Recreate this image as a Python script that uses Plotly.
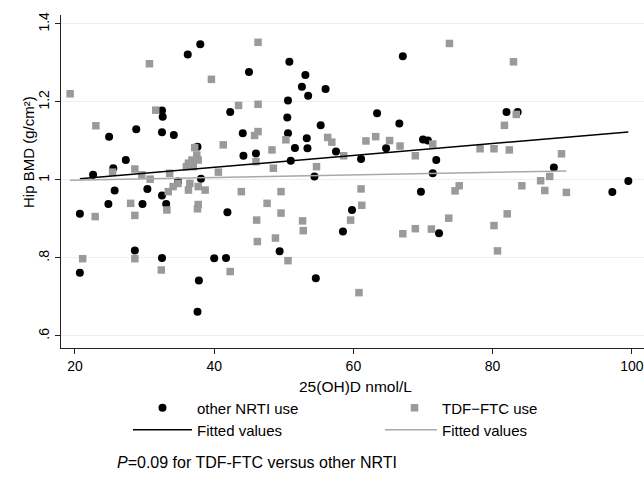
import plotly.graph_objects as go

# ---- data ----
other_x = [36.2, 38.0, 45.0, 32.5, 32.6, 24.9, 28.8, 32.5, 34.2, 42.3, 44.1, 37.6, 44.2, 46.0,
           27.3, 25.5, 22.6, 38.1, 25.7, 30.4, 32.5, 34.8, 33.1, 24.8, 29.7, 20.7, 41.9, 28.6,
           20.7, 32.5, 40.0, 41.7, 37.8, 37.6, 50.8, 53.1, 52.6, 53.5, 56.0, 67.1, 50.6, 50.5,
           50.6, 55.3, 63.4, 66.6, 53.3, 51.6, 53.4, 57.5, 64.7, 70.0, 70.7, 71.9, 51.0, 61.1,
           54.4, 71.4, 69.7, 59.8, 58.5, 49.4, 54.6, 72.3, 82.0, 83.6, 88.8, 97.2, 99.5]
other_y = [1.322, 1.348, 1.277, 1.178, 1.162, 1.111, 1.130, 1.122, 1.115, 1.174, 1.120, 1.085,
           1.062, 1.068, 1.051, 1.030, 1.013, 1.003, 0.973, 0.977, 0.960, 0.996, 0.938, 0.938,
           0.938, 0.913, 0.917, 0.819, 0.762, 0.800, 0.799, 0.800, 0.742, 0.662, 1.303, 1.269,
           1.239, 1.216, 1.233, 1.317, 1.204, 1.160, 1.120, 1.140, 1.171, 1.145, 1.107, 1.082,
           1.081, 1.073, 1.081, 1.104, 1.101, 1.051, 1.049, 1.054, 1.009, 1.017, 0.970, 0.923,
           0.868, 0.817, 0.748, 0.863, 1.174, 1.174, 1.032, 0.969, 0.997]

tdf_x = [19.3, 30.7, 39.6, 46.3, 31.6, 23.0, 43.5, 46.3, 45.8, 46.3, 41.3, 37.2, 37.5, 36.8,
         36.3, 37.7, 36.0, 37.0, 28.6, 25.4, 29.6, 30.8, 33.6, 40.6, 46.0, 34.8, 34.1, 33.4,
         36.5, 36.3, 37.7, 38.7, 37.7, 37.6, 43.9, 28.0, 28.6, 22.9, 33.2, 46.1, 46.2, 28.6,
         21.1, 32.4, 42.3, 73.8, 50.3, 56.3, 56.9, 58.6, 61.8, 63.2, 65.2, 66.7, 71.4, 68.9,
         48.3, 48.5, 54.7, 61.1, 61.2, 59.6, 49.6, 47.6, 49.6, 52.7, 52.8, 48.8, 50.6, 60.8,
         67.1, 68.9, 71.2, 73.7, 83.0, 83.4, 81.7, 78.2, 80.2, 82.4, 89.9, 88.2, 86.9, 87.5,
         90.6, 84.2, 75.2, 74.6, 82.1, 80.2, 80.7]
tdf_y = [1.221, 1.298, 1.258, 1.353, 1.179, 1.139, 1.191, 1.194, 1.114, 1.124, 1.090, 1.083,
         1.064, 1.051, 1.043, 1.051, 1.034, 1.034, 1.028, 1.020, 1.013, 1.002, 1.017, 1.020,
         1.047, 0.991, 0.983, 0.970, 0.991, 0.974, 0.983, 0.974, 0.937, 0.926, 0.970, 0.940,
         0.909, 0.906, 0.923, 0.897, 0.842, 0.798, 0.798, 0.769, 0.765, 1.350, 1.103, 1.109,
         1.097, 1.062, 1.100, 1.111, 1.101, 1.087, 1.092, 1.062, 1.077, 1.030, 1.034, 0.977,
         0.935, 0.897, 0.970, 0.940, 0.915, 0.895, 0.870, 0.851, 0.793, 0.711, 0.862, 0.875,
         0.874, 0.902, 1.303, 1.168, 1.140, 1.080, 1.080, 1.077, 1.067, 1.009, 0.998, 0.973,
         0.968, 0.985, 0.985, 0.972, 0.913, 0.883, 0.818]

# fitted values (end points)
fit_other_x = [20.7, 99.5]
fit_other_y = [1.003, 1.123]
fit_tdf_x = [19.3, 90.6]
fit_tdf_y = [0.999, 1.023]

y_tickvals = [0.6, 0.8, 1.0, 1.2, 1.4]
y_ticktext = [".6", ".8", "1", "1.2", "1.4"]
x_tickvals = [20, 40, 60, 80, 100]

FONT = "Liberation Sans, Arial, Helvetica, sans-serif"

fig = go.Figure()
fig.add_trace(go.Scatter(x=other_x, y=other_y, mode="markers", name="other NRTI use",
                         marker=dict(symbol="circle", size=8, color="black"),
                         legend="legend"))
fig.add_trace(go.Scatter(x=tdf_x, y=tdf_y, mode="markers", name="TDF\u2212FTC use",
                         marker=dict(symbol="square", size=7.5, color="#9a9a9a"),
                         legend="legend2"))
fig.add_trace(go.Scatter(x=fit_other_x, y=fit_other_y, mode="lines", name="Fitted values",
                         line=dict(color="black", width=1.5), legend="legend3"))
fig.add_trace(go.Scatter(x=fit_tdf_x, y=fit_tdf_y, mode="lines", name="Fitted values",
                         line=dict(color="#a8a8a8", width=1.5), legend="legend4"))

L, R, T, B = 61, 0, 15, 134
W, H = 644, 482
pw, ph = W - L - R, H - T - B


def px_x(p):
    return (p - L) / pw


def px_y(p):
    return (H - B - p) / ph


def leg(xpx, ypx, iw):
    return dict(orientation="h", x=px_x(xpx), xanchor="left", y=px_y(ypx), yanchor="middle",
                itemwidth=iw, font=dict(size=15, family=FONT), bgcolor="rgba(0,0,0,0)")


fig.update_layout(
    width=W, height=H, template="none",
    margin=dict(l=L, r=R, t=T, b=B, pad=0),
    paper_bgcolor="white", plot_bgcolor="white",
    font=dict(family=FONT, size=14, color="black"),
    showlegend=True,
    legend=leg(128, 408, 59),
    legend2=leg(387, 408, 45),
    legend3=leg(128, 430, 59),
    legend4=leg(380, 430, 52),
    xaxis=dict(range=[17.99, 101.75], tickvals=x_tickvals, ticks="outside", ticklen=5,
               tickwidth=1, tickcolor="#222", showline=True, linecolor="#222", linewidth=1,
               showgrid=False, zeroline=False, automargin=False,
               tickfont=dict(size=14, family=FONT)),
    yaxis=dict(range=[0.569, 1.423], tickvals=y_tickvals, ticktext=y_ticktext, tickangle=-90,
               ticks="outside", ticklen=5, tickwidth=1, tickcolor="#222", showline=True,
               linecolor="#222", linewidth=1, showgrid=True, gridcolor="#e8f0f0", gridwidth=1,
               zeroline=False, automargin=False, tickfont=dict(size=14, family=FONT)),
    annotations=[
        dict(text="25(OH)D nmol/L", xref="paper", yref="paper", x=px_x(355), y=px_y(386),
             xanchor="center", yanchor="middle", showarrow=False, font=dict(size=15.5)),
        dict(text="Hip BMD (g/cm\u00b2)", xref="paper", yref="paper", x=px_x(28), y=px_y(152),
             xanchor="center", yanchor="middle", textangle=-90, showarrow=False,
             font=dict(size=15)),
        dict(text="<i>P</i>=0.09 for TDF-FTC versus other NRTI", xref="paper", yref="paper",
             x=px_x(257), y=px_y(463), xanchor="center", yanchor="middle", showarrow=False,
             font=dict(size=16)),
    ],
)

fig.write_html("out.html", config={"displayModeBar": False},
               post_script="document.body.style.margin='0px';")
